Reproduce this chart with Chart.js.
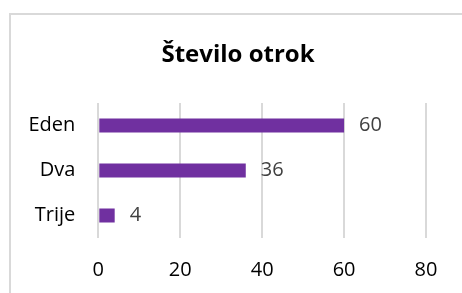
<!DOCTYPE html>
<html><head><meta charset="utf-8">
<script src="https://cdn.jsdelivr.net/npm/chart.js@4"></script>
<style>
html,body{margin:0;padding:0;background:#fff;}
#wrap{position:relative;width:462px;height:293px;overflow:hidden;}
#frame{position:absolute;left:9px;top:13px;width:480px;height:300px;border:2px solid #d9d9d9;box-sizing:border-box;}
canvas{position:absolute;left:0;top:0;}
</style></head>
<body>
<div id="wrap"><div id="frame"></div><canvas id="c" width="462" height="293"></canvas></div>
<script>
const categories = ["Eden", "Dva", "Trije"];
const values = [60, 36, 4];
const xTicks = [0, 20, 40, 60, 80];
const titleText = "Število otrok";

const FONT = "'Open Sans', sans-serif";

const valueLabels = {
  id: 'valueLabels',
  afterDatasetsDraw(chart) {
    const ctx = chart.ctx;
    const meta = chart.getDatasetMeta(0);
    ctx.save();
    ctx.font = "20px " + FONT;
    ctx.fillStyle = "#404040";
    ctx.textAlign = "left";
    ctx.textBaseline = "middle";
    meta.data.forEach((bar, i) => {
      ctx.fillText(String(values[i]), bar.x + 15, bar.y);
    });
    ctx.restore();
  }
};

const chartTitle = {
  id: 'chartTitle',
  afterDraw(chart) {
    const ctx = chart.ctx;
    ctx.save();
    ctx.font = "bold 24px " + FONT;
    ctx.fillStyle = "#000";
    ctx.textAlign = "center";
    ctx.textBaseline = "alphabetic";
    ctx.fillText(titleText, 238, 61.5);
    ctx.restore();
  }
};

new Chart(document.getElementById('c'), {
  type: 'bar',
  data: {
    labels: categories,
    datasets: [{
      data: values,
      backgroundColor: '#7030A0',
      borderWidth: 0,
      barPercentage: 0.62,
      categoryPercentage: 0.5
    }]
  },
  options: {
    indexAxis: 'y',
    responsive: false,
    animation: false,
    events: [],
    layout: { padding: { left: 0, right: 36, top: 103, bottom: 0 } },
    plugins: {
      legend: { display: false },
      tooltip: { enabled: false },
      title: { display: false }
    },
    scales: {
      x: {
        min: 0, max: 80,
        afterBuildTicks(scale) { scale.ticks = xTicks.map(v => ({ value: v })); },
        afterFit(scale) { scale.height = 55; },
        grid: { color: '#d9d9d9', lineWidth: 2, drawTicks: false },
        border: { display: false },
        ticks: { color: '#000', padding: 20, font: { family: FONT, size: 20 } }
      },
      y: {
        afterFit(scale) { scale.width = 98.3; },
        grid: { display: false, drawTicks: false },
        border: { display: false },
        ticks: { color: '#000', padding: 23, font: { family: FONT, size: 20 } }
      }
    }
  },
  plugins: [valueLabels, chartTitle]
});
</script>
</body></html>
